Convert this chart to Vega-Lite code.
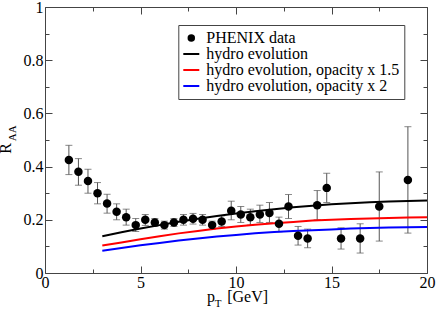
{
  "$schema": "https://vega.github.io/schema/vega-lite/v6.json",
  "width": 382,
  "height": 266,
  "autosize": {"type": "none"},
  "padding": {"left": 45, "top": 7, "right": 9, "bottom": 38},
  "background": "white",
  "datasets": {
    "pts": [
      {"pt": 1.25, "raa": 0.425, "lo": 0.37, "hi": 0.48},
      {"pt": 1.75, "raa": 0.381, "lo": 0.33, "hi": 0.43},
      {"pt": 2.25, "raa": 0.346, "lo": 0.30, "hi": 0.39},
      {"pt": 2.75, "raa": 0.30, "lo": 0.26, "hi": 0.34},
      {"pt": 3.25, "raa": 0.261, "lo": 0.225, "hi": 0.296},
      {"pt": 3.75, "raa": 0.23, "lo": 0.20, "hi": 0.26},
      {"pt": 4.25, "raa": 0.21, "lo": 0.18, "hi": 0.24},
      {"pt": 4.75, "raa": 0.18, "lo": 0.156, "hi": 0.205},
      {"pt": 5.25, "raa": 0.20, "lo": 0.179, "hi": 0.22},
      {"pt": 5.75, "raa": 0.19, "lo": 0.175, "hi": 0.205},
      {"pt": 6.25, "raa": 0.18, "lo": 0.165, "hi": 0.195},
      {"pt": 6.75, "raa": 0.19, "lo": 0.175, "hi": 0.205},
      {"pt": 7.25, "raa": 0.20, "lo": 0.18, "hi": 0.22},
      {"pt": 7.75, "raa": 0.204, "lo": 0.184, "hi": 0.224},
      {"pt": 8.25, "raa": 0.20, "lo": 0.18, "hi": 0.22},
      {"pt": 8.75, "raa": 0.18, "lo": 0.165, "hi": 0.195},
      {"pt": 9.25, "raa": 0.194, "lo": 0.175, "hi": 0.215},
      {"pt": 9.75, "raa": 0.234, "lo": 0.20, "hi": 0.27},
      {"pt": 10.25, "raa": 0.22, "lo": 0.19, "hi": 0.25},
      {"pt": 10.75, "raa": 0.21, "lo": 0.18, "hi": 0.24},
      {"pt": 11.25, "raa": 0.22, "lo": 0.19, "hi": 0.255},
      {"pt": 11.75, "raa": 0.226, "lo": 0.19, "hi": 0.265},
      {"pt": 12.25, "raa": 0.185, "lo": 0.155, "hi": 0.21},
      {"pt": 12.75, "raa": 0.25, "lo": 0.205, "hi": 0.295},
      {"pt": 13.25, "raa": 0.14, "lo": 0.105, "hi": 0.175},
      {"pt": 13.75, "raa": 0.13, "lo": 0.095, "hi": 0.165},
      {"pt": 14.25, "raa": 0.255, "lo": 0.20, "hi": 0.31},
      {"pt": 14.75, "raa": 0.32, "lo": 0.265, "hi": 0.375},
      {"pt": 15.5, "raa": 0.13, "lo": 0.09, "hi": 0.17},
      {"pt": 16.5, "raa": 0.13, "lo": 0.075, "hi": 0.185},
      {"pt": 17.5, "raa": 0.25, "lo": 0.12, "hi": 0.38},
      {"pt": 19, "raa": 0.35, "lo": 0.15, "hi": 0.55}
    ],
    "curves": [
      {"pt": 3, "raa": 0.138, "series": "hydro evolution"},
      {"pt": 4, "raa": 0.153, "series": "hydro evolution"},
      {"pt": 5, "raa": 0.167, "series": "hydro evolution"},
      {"pt": 6, "raa": 0.180, "series": "hydro evolution"},
      {"pt": 7, "raa": 0.193, "series": "hydro evolution"},
      {"pt": 8, "raa": 0.204, "series": "hydro evolution"},
      {"pt": 9, "raa": 0.214, "series": "hydro evolution"},
      {"pt": 10, "raa": 0.224, "series": "hydro evolution"},
      {"pt": 11, "raa": 0.232, "series": "hydro evolution"},
      {"pt": 12, "raa": 0.240, "series": "hydro evolution"},
      {"pt": 13, "raa": 0.247, "series": "hydro evolution"},
      {"pt": 14, "raa": 0.253, "series": "hydro evolution"},
      {"pt": 15, "raa": 0.258, "series": "hydro evolution"},
      {"pt": 16, "raa": 0.262, "series": "hydro evolution"},
      {"pt": 17, "raa": 0.266, "series": "hydro evolution"},
      {"pt": 18, "raa": 0.269, "series": "hydro evolution"},
      {"pt": 19, "raa": 0.271, "series": "hydro evolution"},
      {"pt": 20, "raa": 0.273, "series": "hydro evolution"},
      {"pt": 3, "raa": 0.103, "series": "hydro evolution, opacity x 1.5"},
      {"pt": 4, "raa": 0.115, "series": "hydro evolution, opacity x 1.5"},
      {"pt": 5, "raa": 0.127, "series": "hydro evolution, opacity x 1.5"},
      {"pt": 6, "raa": 0.138, "series": "hydro evolution, opacity x 1.5"},
      {"pt": 7, "raa": 0.149, "series": "hydro evolution, opacity x 1.5"},
      {"pt": 8, "raa": 0.158, "series": "hydro evolution, opacity x 1.5"},
      {"pt": 9, "raa": 0.167, "series": "hydro evolution, opacity x 1.5"},
      {"pt": 10, "raa": 0.175, "series": "hydro evolution, opacity x 1.5"},
      {"pt": 11, "raa": 0.181, "series": "hydro evolution, opacity x 1.5"},
      {"pt": 12, "raa": 0.187, "series": "hydro evolution, opacity x 1.5"},
      {"pt": 13, "raa": 0.192, "series": "hydro evolution, opacity x 1.5"},
      {"pt": 14, "raa": 0.197, "series": "hydro evolution, opacity x 1.5"},
      {"pt": 15, "raa": 0.200, "series": "hydro evolution, opacity x 1.5"},
      {"pt": 16, "raa": 0.203, "series": "hydro evolution, opacity x 1.5"},
      {"pt": 17, "raa": 0.205, "series": "hydro evolution, opacity x 1.5"},
      {"pt": 18, "raa": 0.207, "series": "hydro evolution, opacity x 1.5"},
      {"pt": 19, "raa": 0.209, "series": "hydro evolution, opacity x 1.5"},
      {"pt": 20, "raa": 0.210, "series": "hydro evolution, opacity x 1.5"},
      {"pt": 3, "raa": 0.084, "series": "hydro evolution, opacity x 2"},
      {"pt": 4, "raa": 0.094, "series": "hydro evolution, opacity x 2"},
      {"pt": 5, "raa": 0.104, "series": "hydro evolution, opacity x 2"},
      {"pt": 6, "raa": 0.113, "series": "hydro evolution, opacity x 2"},
      {"pt": 7, "raa": 0.122, "series": "hydro evolution, opacity x 2"},
      {"pt": 8, "raa": 0.130, "series": "hydro evolution, opacity x 2"},
      {"pt": 9, "raa": 0.137, "series": "hydro evolution, opacity x 2"},
      {"pt": 10, "raa": 0.143, "series": "hydro evolution, opacity x 2"},
      {"pt": 11, "raa": 0.149, "series": "hydro evolution, opacity x 2"},
      {"pt": 12, "raa": 0.154, "series": "hydro evolution, opacity x 2"},
      {"pt": 13, "raa": 0.158, "series": "hydro evolution, opacity x 2"},
      {"pt": 14, "raa": 0.161, "series": "hydro evolution, opacity x 2"},
      {"pt": 15, "raa": 0.164, "series": "hydro evolution, opacity x 2"},
      {"pt": 16, "raa": 0.167, "series": "hydro evolution, opacity x 2"},
      {"pt": 17, "raa": 0.169, "series": "hydro evolution, opacity x 2"},
      {"pt": 18, "raa": 0.171, "series": "hydro evolution, opacity x 2"},
      {"pt": 19, "raa": 0.172, "series": "hydro evolution, opacity x 2"},
      {"pt": 20, "raa": 0.173, "series": "hydro evolution, opacity x 2"}
    ]
  },
  "resolve": {"axis": {"x": "independent", "y": "independent"}},
  "layer": [
    {
      "data": {"name": "pts"},
      "mark": {"type": "rule", "color": "#555", "strokeWidth": 1},
      "encoding": {
        "x": {"field": "pt", "type": "quantitative", "scale": {"domain": [0, 20], "nice": false, "zero": false},
          "axis": {"orient": "bottom", "values": [0, 5, 10, 15, 20], "tickSize": -7, "labelPadding": 8, "labelFlush": false, "labelOverlap": false,
            "title": "p", "titleFontSize": 16, "titleAlign": "left", "titleBaseline": "alphabetic", "titleX": 161.5, "titleY": 28.5}},
        "y": {"field": "lo", "type": "quantitative", "scale": {"domain": [0, 1], "nice": false, "zero": false},
          "axis": {"orient": "left", "values": [0, 0.2, 0.4, 0.6, 0.8, 1], "labelExpr": "'' + datum.value", "tickSize": -7, "labelPadding": 9, "labelFlush": false, "labelOverlap": false,
            "title": "R", "titleFontSize": 16, "titleAngle": 270, "titleAlign": "left", "titleBaseline": "alphabetic", "titleX": -34.3, "titleY": 146.3}},
        "y2": {"field": "hi"}
      }
    },
    {
      "data": {"name": "pts"},
      "mark": {"type": "tick", "orient": "horizontal", "color": "#555", "size": 7, "thickness": 1},
      "encoding": {
        "x": {"field": "pt", "type": "quantitative",
          "axis": {"orient": "top", "values": [0, 5, 10, 15, 20], "tickSize": -7, "labels": false, "title": null}},
        "y": {"field": "lo", "type": "quantitative",
          "axis": {"orient": "right", "values": [0, 0.2, 0.4, 0.6, 0.8, 1], "tickSize": -7, "labels": false, "title": null}}
      }
    },
    {
      "data": {"name": "pts"},
      "mark": {"type": "tick", "orient": "horizontal", "color": "#555", "size": 7, "thickness": 1},
      "encoding": {
        "x": {"field": "pt", "type": "quantitative",
          "axis": {"orient": "bottom", "values": [2.5, 7.5, 12.5, 17.5], "tickSize": -4, "labels": false, "title": null}},
        "y": {"field": "hi", "type": "quantitative",
          "axis": {"orient": "left", "values": [0.1, 0.3, 0.5, 0.7, 0.9], "tickSize": -4, "labels": false, "title": null}}
      }
    },
    {
      "data": {"name": "curves"},
      "transform": [{"filter": "datum.series == 'hydro evolution'"}],
      "mark": {"type": "line", "strokeWidth": 2},
      "encoding": {
        "x": {"field": "pt", "type": "quantitative",
          "axis": {"orient": "top", "values": [2.5, 7.5, 12.5, 17.5], "tickSize": -4, "labels": false, "title": null}},
        "y": {"field": "raa", "type": "quantitative",
          "axis": {"orient": "right", "values": [0.1, 0.3, 0.5, 0.7, 0.9], "tickSize": -4, "labels": false, "title": null}},
        "color": {"field": "series", "type": "nominal",
          "scale": {"domain": ["PHENIX data", "hydro evolution", "hydro evolution, opacity x 1.5", "hydro evolution, opacity x 2"], "range": ["black", "black", "#ff0000", "#0000ff"]},
          "legend": {
            "orient": "none", "legendX": 133.3, "legendY": 18, "title": null,
            "strokeColor": "#444", "fillColor": "white", "padding": 5,
            "labelFont": "Liberation Serif", "labelFontSize": 16, "labelColor": "black", "labelLimit": 400,
            "labelOffset": 7, "rowPadding": 0, "symbolStrokeWidth": 2,
            "encode": {
              "symbols": {
                "update": {
                  "shape": {"signal": "datum.value == 'PHENIX data' ? 'circle' : 'stroke'"},
                  "size": {"signal": "datum.value == 'PHENIX data' ? 56 : 256"},
                  "fill": {"signal": "datum.value == 'PHENIX data' ? 'black' : 'transparent'"},
                  "fillOpacity": {"value": 1},
                  "stroke": {"scale": "color", "field": "value"},
                  "strokeOpacity": {"value": 1},
                  "strokeWidth": {"signal": "datum.value == 'PHENIX data' ? 0 : 2"}
                }
              }
            }
          }
        }
      }
    },
    {
      "data": {"name": "curves"},
      "transform": [{"filter": "datum.series == 'hydro evolution, opacity x 1.5'"}],
      "mark": {"type": "line", "strokeWidth": 2},
      "encoding": {
        "x": {"field": "pt", "type": "quantitative",
          "axis": {"orient": "bottom", "values": [], "ticks": false, "labels": false,
            "title": "T", "titleFontSize": 11, "titleAlign": "left", "titleBaseline": "alphabetic", "titleX": 169.3, "titleY": 33}},
        "y": {"field": "raa", "type": "quantitative",
          "axis": {"orient": "left", "values": [], "ticks": false, "labels": false,
            "title": "AA", "titleFontSize": 11, "titleAngle": 270, "titleAlign": "left", "titleBaseline": "alphabetic", "titleX": -29.3, "titleY": 133.7}},
        "color": {"field": "series", "type": "nominal"}
      }
    },
    {
      "data": {"name": "curves"},
      "transform": [{"filter": "datum.series == 'hydro evolution, opacity x 2'"}],
      "mark": {"type": "line", "strokeWidth": 2},
      "encoding": {
        "x": {"field": "pt", "type": "quantitative",
          "axis": {"orient": "bottom", "values": [], "ticks": false, "labels": false,
            "title": "[GeV]", "titleFontSize": 16, "titleAlign": "left", "titleBaseline": "alphabetic", "titleX": 181.7, "titleY": 28.5}},
        "y": {"field": "raa", "type": "quantitative", "axis": null},
        "color": {"field": "series", "type": "nominal"}
      }
    },
    {
      "data": {"name": "pts"},
      "mark": {"type": "point", "filled": true, "color": "black", "size": 72, "opacity": 1},
      "encoding": {
        "x": {"field": "pt", "type": "quantitative", "axis": null},
        "y": {"field": "raa", "type": "quantitative", "axis": null}
      }
    }
  ],
  "config": {
    "font": "Liberation Serif",
    "view": {"stroke": "#444", "strokeWidth": 1},
    "axis": {
      "domain": false, "grid": false, "tickColor": "#444", "tickWidth": 1,
      "labelColor": "black", "labelFont": "Liberation Serif", "labelFontSize": 16,
      "titleFont": "Liberation Serif", "titleFontWeight": "normal", "titleColor": "black", "titlePadding": 0
    }
  }
}
